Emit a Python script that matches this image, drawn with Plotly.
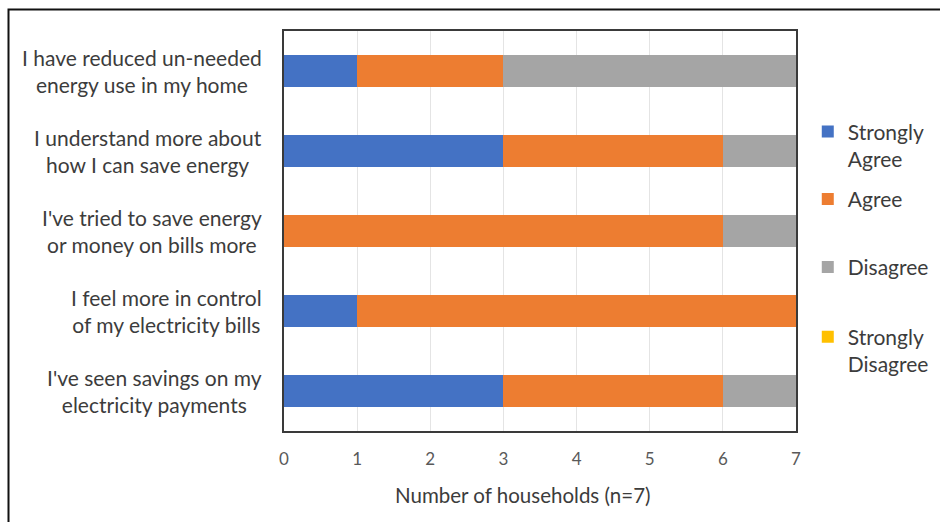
import plotly.graph_objects as go

# Survey statements (top to bottom) and household counts per response
statements = [
    "I have reduced un-needed<br>energy use in my home",
    "I understand more about<br>how I can save energy",
    "I've tried to save energy<br>or money on bills more",
    "I feel more in control<br>of my electricity bills",
    "I've seen savings on my<br>electricity payments",
]
strongly_agree = [1, 3, 0, 1, 3]
agree = [2, 3, 6, 6, 3]
disagree = [4, 1, 1, 0, 1]
strongly_disagree = [0, 0, 0, 0, 0]

series_names = ["Strongly<br>Agree", "Agree", "Disagree", "Strongly<br>Disagree"]
series_values = [strongly_agree, agree, disagree, strongly_disagree]
series_colors = ["#4472C4", "#ED7D31", "#A5A5A5", "#FFC000"]
legend_ids = ["legend", "legend2", "legend3", "legend4"]
legend_y = [0.714, 0.579, 0.409, 0.201]

x_ticks = [0, 1, 2, 3, 4, 5, 6, 7]

FONT = "Lato"
TEXT = "#3C3C3C"

fig = go.Figure()
for name, vals, color, lg in zip(series_names, series_values, series_colors, legend_ids):
    fig.add_trace(go.Bar(
        y=statements, x=vals, name=name, orientation="h",
        marker=dict(color=color, line=dict(width=0)),
        legend=lg,
    ))

legend_common = dict(
    x=1.023, xanchor="left", yanchor="middle",
    font=dict(family=FONT, size=21, color=TEXT),
    bgcolor="rgba(0,0,0,0)", valign="top",
    itemwidth=30, tracegroupgap=0,
)
layout_legends = {}
for lg, yy in zip(legend_ids, legend_y):
    layout_legends[lg] = dict(legend_common, y=yy)

fig.update_layout(
    width=940, height=522,
    margin=dict(l=284, r=144, t=31, b=91, autoexpand=False),
    paper_bgcolor="white", plot_bgcolor="white",
    barmode="stack", bargap=0.61,
    showlegend=True,
    font=dict(family=FONT, color=TEXT),
    xaxis=dict(
        range=[0, 7], tickvals=x_ticks, ticktext=[str(v) for v in x_ticks],
        showgrid=True, gridcolor="#E4E4E4", gridwidth=1,
        zeroline=False, showline=True, mirror=True,
        linecolor="#3A3A3A", linewidth=2,
        tickfont=dict(family=FONT, size=17, color="#595959"),
        ticks="", ticklabelstandoff=12,
    ),
    yaxis=dict(
        categoryorder="array", categoryarray=statements,
        autorange="reversed", showgrid=False, zeroline=False,
        showline=True, mirror=True, linecolor="#3A3A3A", linewidth=2,
        showticklabels=False, ticks="",
    ),
    **layout_legends,
)

# Category labels, centred multi-line text to the left of the plot
for s in statements:
    fig.add_annotation(
        x=-0.04, xref="paper", y=s, yref="y",
        text=s, showarrow=False, xanchor="right", yanchor="middle",
        align="center", font=dict(family=FONT, size=21, color=TEXT),
    )

# Axis title
fig.add_annotation(
    x=0.467, xref="paper", y=-0.16, yref="paper",
    text="Number of households (n=7)", showarrow=False,
    xanchor="center", yanchor="middle",
    font=dict(family=FONT, size=20.5, color=TEXT),
)

# Outer chart frame (left and top edges visible)
fig.add_shape(
    type="rect", xref="paper", yref="paper",
    x0=(8.5 - 284) / 512, x1=2.0, y0=-1.0, y1=(431.5 - 10) / 400,
    line=dict(color="#111111", width=2), fillcolor="rgba(0,0,0,0)",
    layer="above",
)

fig.write_html("out.html")
